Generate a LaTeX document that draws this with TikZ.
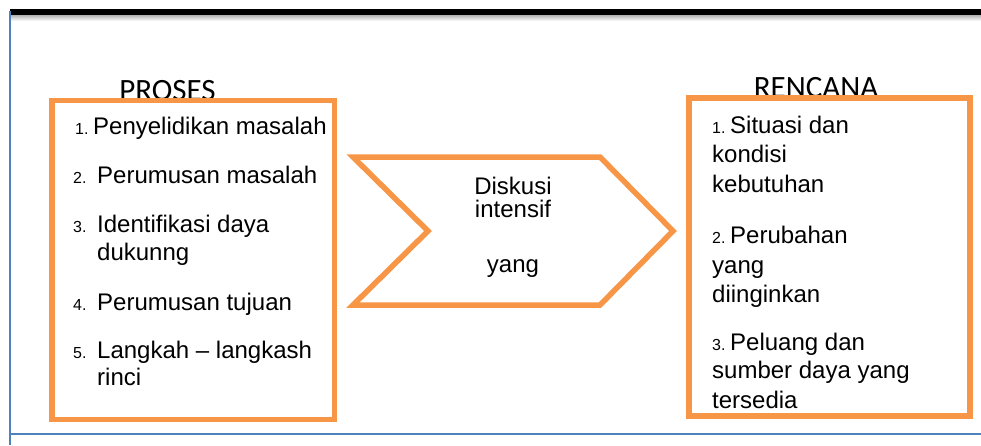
\documentclass[tikz,border=0pt]{standalone}
\usepackage{fontspec}
\setmainfont{Liberation Sans}
\newfontfamily\headfont{Carlito}
\definecolor{accentorange}{HTML}{F79646}
\definecolor{accentblue}{HTML}{4F81BD}
\tikzset{
  framebox/.style={draw=accentorange, line width=5.5pt, fill=white},
  heading/.style={anchor=base, inner sep=0pt, font=\headfont\fontsize{31}{34}\selectfont},
  itemtext/.style={anchor=base west, inner sep=0pt, font=\fontsize{24}{28}\selectfont},
  itemnum/.style={anchor=base west, inner sep=0pt, font=\fontsize{16}{20}\selectfont},
  midtext/.style={anchor=base, inner sep=0pt, font=\fontsize{24}{28}\selectfont},
}
\begin{document}
\begin{tikzpicture}[x=1pt,y=-1pt]
\useasboundingbox (0,0) rectangle (981,445);

% page rules
\shade[top color=black!30, bottom color=white] (10,15) rectangle (981,21);
\fill[black] (10,9) rectangle (981,15);
\draw[accentblue, line width=2pt] (9.5,11) -- (9.5,445);
\draw[accentblue, line width=2.5pt] (10,434) -- (981,434);

% headings (partly hidden behind the boxes)
\node[heading] (hproses) at (167.5,100) {PROSES};
\node[heading] (hrencana) at (816,97) {RENCANA};

% frames
\draw[framebox] (52,100.5) rectangle (334.5,419.5);
\draw[framebox] (689,98) rectangle (970,416);

% chevron
\coordinate (ctl) at (353,157);
\coordinate (ctr) at (600,157);
\coordinate (ctip) at (673,231);
\coordinate (cbr) at (600,305);
\coordinate (cbl) at (353,305);
\coordinate (cnotch) at (428,231);
\draw[draw=accentorange, line width=5.5pt, fill=white, line join=miter]
  (ctl) -- (ctr) -- (ctip) -- (cbr) -- (cbl) -- (cnotch) -- cycle;
\node[midtext] (m1) at (513,194) {Diskusi};
\node[midtext] (m2) at (513,217) {intensif};
\node[midtext] (m3) at (513,272) {yang};

% left list
\node[itemnum]  (p1n) at (75,134) {1.};
\node[itemtext] (p1)  at (93,134) {Penyelidikan masalah};
\node[itemnum]  (p2n) at (73,183) {2.};
\node[itemtext] (p2)  at (97,183) {Perumusan masalah};
\node[itemnum]  (p3n) at (73,232) {3.};
\node[itemtext] (p3)  at (97,232) {Identifikasi daya};
\node[itemtext] (p3b) at (97,260) {dukunng};
\node[itemnum]  (p4n) at (73,310) {4.};
\node[itemtext] (p4)  at (97,310) {Perumusan tujuan};
\node[itemnum]  (p5n) at (73,358) {5.};
\node[itemtext] (p5)  at (97,358) {Langkah -- langkash};
\node[itemtext] (p5b) at (97,385) {rinci};

% right list
\node[itemnum]  (r1n) at (712,133) {1.};
\node[itemtext] (r1)  at (730,133) {Situasi dan};
\node[itemtext] (r1b) at (712,162) {kondisi};
\node[itemtext] (r1c) at (712,192) {kebutuhan};
\node[itemnum]  (r2n) at (712,243) {2.};
\node[itemtext] (r2)  at (730,243) {Perubahan};
\node[itemtext] (r2b) at (712,273) {yang};
\node[itemtext] (r2c) at (712,302) {diinginkan};
\node[itemnum]  (r3n) at (712,350) {3.};
\node[itemtext] (r3)  at (730,350) {Peluang dan};
\node[itemtext] (r3b) at (712,378) {sumber daya yang};
\node[itemtext] (r3c) at (712,408) {tersedia};
\end{tikzpicture}
\end{document}
